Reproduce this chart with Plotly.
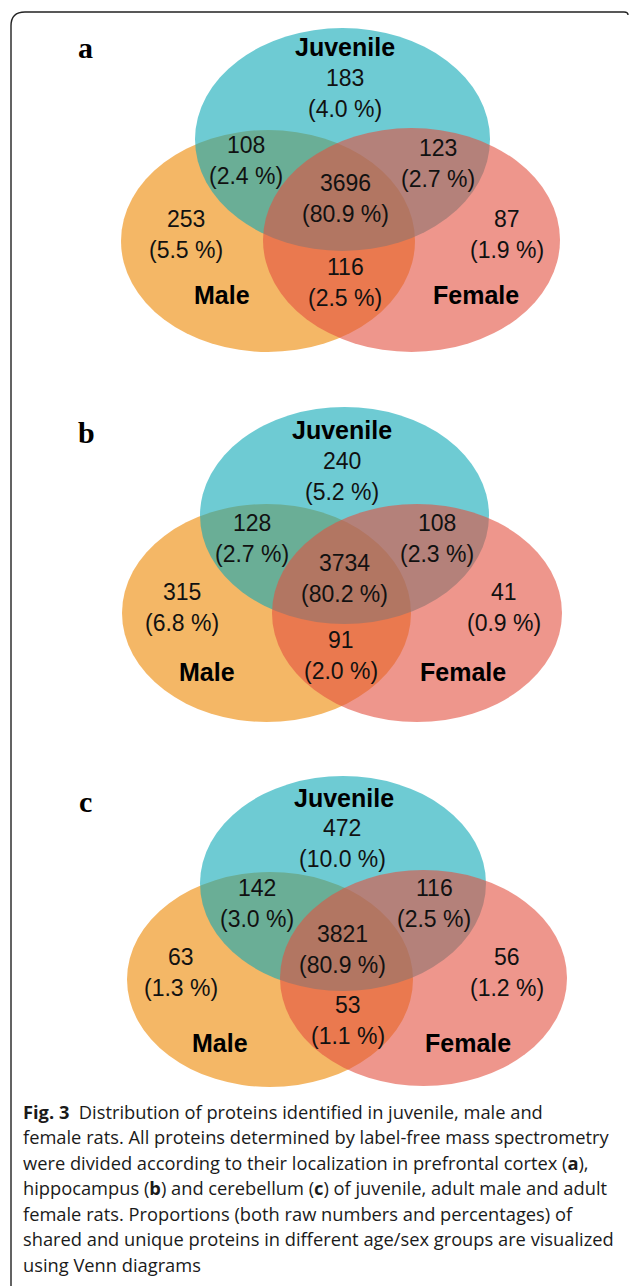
import plotly.graph_objects as go

# Region order used by every count / percentage list:
# Juvenile only, Male only, Female only, Juvenile∩Male, Juvenile∩Female, Male∩Female, all three
region_keys = ["j", "m", "f", "jm", "jf", "mf", "jmf"]

# Prefrontal cortex (a)
pfc_counts = [183, 253, 87, 108, 123, 116, 3696]
pfc_pct = [4.0, 5.5, 1.9, 2.4, 2.7, 2.5, 80.9]
# Hippocampus (b)
hip_counts = [240, 315, 41, 128, 108, 91, 3734]
hip_pct = [5.2, 6.8, 0.9, 2.7, 2.3, 2.0, 80.2]
# Cerebellum (c)
cer_counts = [472, 63, 56, 142, 116, 53, 3821]
cer_pct = [10.0, 1.3, 1.2, 3.0, 2.5, 1.1, 80.9]

panel_letters = ["a", "b", "c"]
set_names = ["Juvenile", "Male", "Female"]

caption_lines = [
    "<b>Fig. 3</b>  Distribution of proteins identified in juvenile, male and",
    "female rats. All proteins determined by label-free mass spectrometry",
    "were divided according to their localization in prefrontal cortex (<b>a</b>),",
    "hippocampus (<b>b</b>) and cerebellum (<b>c</b>) of juvenile, adult male and adult",
    "female rats. Proportions (both raw numbers and percentages) of",
    "shared and unique proteins in different age/sex groups are visualized",
    "using Venn diagrams",
]

# ---- layout of the three diagrams (page pixel coordinates) ----
# ellipses: (cx, cy, rx, ry) drawn in the order Male, Juvenile, Female
panels = [
    dict(
        letter_xy=(85, 47),
        ell={"Male": (268, 241, 147, 111), "Juvenile": (342.5, 139.5, 147.5, 111.5),
             "Female": (411.5, 240, 148.5, 112)},
        name_xy={"Juvenile": (345, 47), "Male": (222, 295), "Female": (476, 295)},
        num_xy={"j": (345, 78), "m": (186, 219), "f": (507, 219), "jm": (246, 145),
                "jf": (438, 148), "mf": (345, 267), "jmf": (345, 183)},
    ),
    dict(
        letter_xy=(86, 432),
        ell={"Male": (266.5, 613, 144.5, 109), "Juvenile": (344.5, 515.5, 144.5, 108.5),
             "Female": (417, 613, 145, 109)},
        name_xy={"Juvenile": (342, 430), "Male": (207, 672), "Female": (463, 672)},
        num_xy={"j": (342, 461), "m": (182, 592), "f": (504, 592), "jm": (252, 523),
                "jf": (437, 523), "mf": (341, 640), "jmf": (344, 563)},
    ),
    dict(
        letter_xy=(85, 801),
        ell={"Male": (270, 979.5, 143, 107.5), "Juvenile": (343, 883.5, 143, 107.5),
             "Female": (423.5, 978, 143.5, 108)},
        name_xy={"Juvenile": (344, 798), "Male": (220, 1043), "Female": (468, 1043)},
        num_xy={"j": (342, 828), "m": (181, 957), "f": (507, 957), "jm": (257, 888),
                "jf": (434, 888), "mf": (348, 1005), "jmf": (342, 934)},
    ),
]
pct_gap = 31  # vertical distance from a count to its percentage line

set_colors = {"Male": "rgb(237,135,0)", "Juvenile": "rgb(13,168,182)", "Female": "rgb(227,80,63)"}
set_opacity = 0.6

panel_counts = [pfc_counts, hip_counts, cer_counts]
panel_pcts = [pfc_pct, hip_pct, cer_pct]

W, H = 629, 1286
fig = go.Figure()
# invisible trace so the cartesian axes exist
fig.add_trace(go.Scatter(x=[0, W], y=[0, H], mode="markers", marker=dict(opacity=0),
                         hoverinfo="skip", showlegend=False))

shapes = []
annotations = []
num_font = dict(family="Liberation Sans, Arial", size=23, color="#111")
name_font = dict(family="Liberation Sans, Arial", size=25, color="#000")

for p, counts, pcts, letter in zip(panels, panel_counts, panel_pcts, panel_letters):
    for name in ["Male", "Juvenile", "Female"]:
        cx, cy, rx, ry = p["ell"][name]
        shapes.append(dict(type="circle", xref="x", yref="y",
                           x0=cx - rx, x1=cx + rx, y0=cy - ry, y1=cy + ry,
                           fillcolor=set_colors[name], opacity=set_opacity,
                           line=dict(width=0), layer="below"))
    for name in set_names:
        x, y = p["name_xy"][name]
        annotations.append(dict(x=x, y=y, text=f"<b>{name}</b>", showarrow=False,
                                font=name_font, xanchor="center", yanchor="middle"))
    for key, c, pc in zip(region_keys, counts, pcts):
        x, y = p["num_xy"][key]
        annotations.append(dict(x=x, y=y, text=str(c), showarrow=False, font=num_font,
                                xanchor="center", yanchor="middle"))
        annotations.append(dict(x=x, y=y + pct_gap, text=f"({pc:.1f} %)", showarrow=False,
                                font=num_font, xanchor="center", yanchor="middle"))
    lx, ly = p["letter_xy"]
    annotations.append(dict(x=lx, y=ly, text=f"<b>{letter}</b>", showarrow=False,
                            font=dict(family="Liberation Serif, Times New Roman", size=30,
                                      color="#000"),
                            xanchor="center", yanchor="middle"))

# caption
cap_y0, cap_dy = 1111, 25.5
for i, line in enumerate(caption_lines):
    annotations.append(dict(x=21, y=cap_y0 + i * cap_dy, text=line, showarrow=False,
                            xanchor="left", yanchor="middle",
                            font=dict(family="Open Sans", size=18.3, color="#1a1a1a")))

# frame around the figure (open on the right)
shapes.append(dict(type="path", xref="x", yref="y",
                   path=f"M 11,{H} L 11,26 Q 11,12 25,12 L 624,12 Q 628,12 628,15",
                   line=dict(color="#222", width=1.4)))

fig.update_layout(
    width=W, height=H, margin=dict(l=0, r=0, t=0, b=0),
    paper_bgcolor="white", plot_bgcolor="white",
    xaxis=dict(range=[0, W], visible=False, fixedrange=True),
    yaxis=dict(range=[H, 0], visible=False, fixedrange=True),
    shapes=shapes, annotations=annotations, showlegend=False,
)

fig.write_html("out.html")
